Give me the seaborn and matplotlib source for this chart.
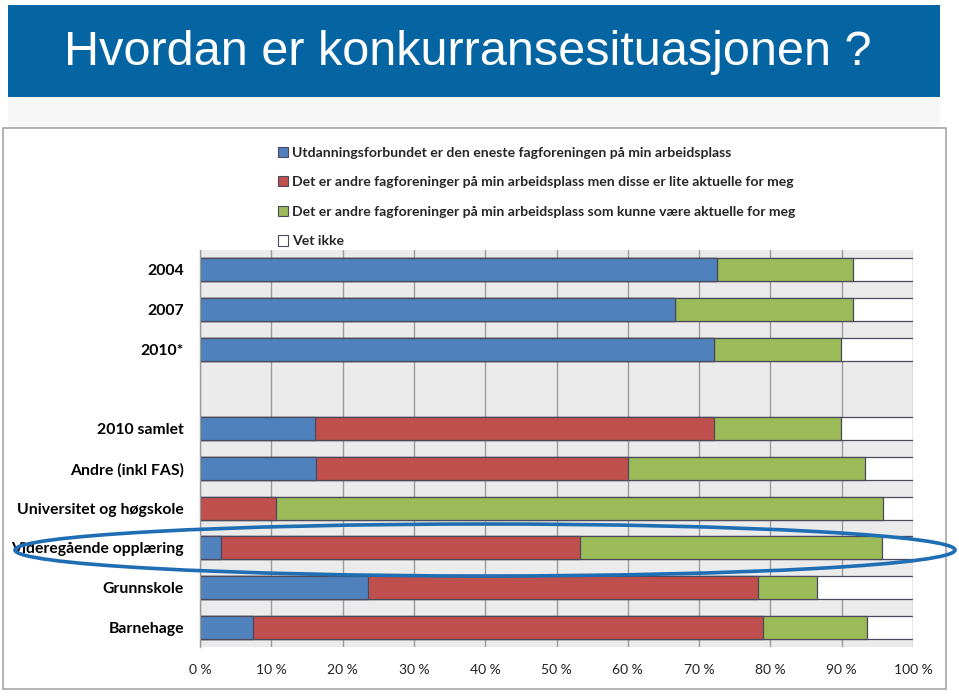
import matplotlib
matplotlib.use("Agg")
import matplotlib.pyplot as plt
from matplotlib.patches import Rectangle, Ellipse, Patch
import seaborn as sns
import pandas as pd

categories = ["2004", "2007", "2010*", "2010 samlet", "Andre (inkl FAS)",
              "Universitet og høgskole", "Videregående opplæring",
              "Grunnskole", "Barnehage"]
slot_order = ["2004", "2007", "2010*", "", "2010 samlet", "Andre (inkl FAS)",
              "Universitet og høgskole", "Videregående opplæring",
              "Grunnskole", "Barnehage"]
eneste = [72.5, 66.6, 72.1, 16.1, 16.3, 0.0, 3.0, 23.6, 7.5]
lite_aktuelle = [0.0, 0.0, 0.0, 56.0, 43.7, 10.6, 50.3, 54.6, 71.5]
kunne_aktuelle = [19.1, 25.0, 17.8, 17.8, 33.3, 85.2, 42.3, 8.4, 14.6]
vet_ikke = [8.4, 8.4, 10.1, 10.1, 6.7, 4.2, 4.4, 13.4, 6.4]
series_names = [
    "Utdanningsforbundet er den eneste fagforeningen på min arbeidsplass",
    "Det er andre fagforeninger på min arbeidsplass men disse er lite aktuelle for meg",
    "Det er andre fagforeninger på min arbeidsplass som kunne være aktuelle for meg",
    "Vet ikke",
]
colors = ["#4F81BD", "#C0504D", "#9BBB59", "#FFFFFF"]
xticks = [0, 10, 20, 30, 40, 50, 60, 70, 80, 90, 100]
title = "Hvordan er konkurransesituasjonen ?"

series = [eneste, lite_aktuelle, kunne_aktuelle, vet_ikke]
df = pd.DataFrame({"cat": categories})
cum = [0.0] * len(categories)
cum_cols = []
for i, s in enumerate(series):
    cum = [c + v for c, v in zip(cum, s)]
    df[f"c{i}"] = cum
    cum_cols.append(f"c{i}")

sns.set_theme(style="white")
plt.rcParams["font.family"] = ["Lato", "DejaVu Sans"]

W, H = 959, 696
fig = plt.figure(figsize=(W / 100, H / 100), dpi=100)
fig.patch.set_facecolor("white")

# light band and title band
fig.add_artist(Rectangle((8 / W, 1 - 128 / H), 932 / W, 31 / H, transform=fig.transFigure,
                         facecolor="#F7F7F7", edgecolor="none", zorder=0))
fig.add_artist(Rectangle((8 / W, 1 - 97 / H), 932 / W, 92 / H, transform=fig.transFigure,
                         facecolor="#0465A2", edgecolor="none", zorder=1))
fig.text(64 / W, 1 - 65 / H, title, color="white", fontsize=35,
         family=["Liberation Sans Narrow", "Liberation Sans", "DejaVu Sans"],
         va="baseline", ha="left", zorder=2)
# chart area border
fig.add_artist(Rectangle((2.5 / W, 1 - 689 / H), 943 / W, 561 / H, transform=fig.transFigure,
                         facecolor="white", edgecolor="#A6A6A6", linewidth=1.2, zorder=1))

ax = fig.add_axes([200 / W, 1 - 647 / H, 713 / W, 397 / H], zorder=3)
ax.set_facecolor("#EBEBEB")

for col, color in zip(reversed(cum_cols), reversed(colors)):
    sns.barplot(data=df, x=col, y="cat", order=slot_order, orient="h",
                color=color, saturation=1, width=0.58, edgecolor="#4A4A5C",
                linewidth=0.9, ax=ax, errorbar=None)

ax.set_xlim(0, 100)
ax.set_ylim(9.5, -0.5)
ax.set_xticks(xticks)
ax.set_xticklabels([f"{t} %" for t in xticks], fontsize=10, color="#222222")
ax.set_yticks(range(len(slot_order)))
ax.set_yticklabels(slot_order, fontsize=11.3, fontweight="bold", color="black")
ax.tick_params(axis="both", length=0)
ax.tick_params(axis="y", pad=11.5)
ax.tick_params(axis="x", pad=12)
ax.set_xlabel("")
ax.set_ylabel("")
ax.grid(axis="x", color="#9A9A9A", linewidth=1.0)
ax.set_axisbelow(True)
for side in ["top", "right", "bottom"]:
    ax.spines[side].set_visible(False)
ax.spines["left"].set_color("#9A9A9A")
ax.spines["left"].set_linewidth(1.0)

handles = [Patch(facecolor=c, edgecolor="#4A4A5C", linewidth=0.8) for c in colors]
leg = fig.legend(handles, series_names, loc="upper left",
                 bbox_to_anchor=(272 / W, 1 - 141 / H), frameon=False,
                 handlelength=0.75, handleheight=0.75,
                 handletextpad=0.3, labelspacing=1.25, borderaxespad=0,
                 prop={"weight": "bold", "size": 10.1})

# highlight ellipse
fig.add_artist(Ellipse((485 / W, 1 - 550 / H), 940 / W, 52 / H, transform=fig.transFigure,
                       facecolor="none", edgecolor="#1F6DB2", linewidth=2.6, zorder=5))

fig.savefig("out.png", dpi=100)
